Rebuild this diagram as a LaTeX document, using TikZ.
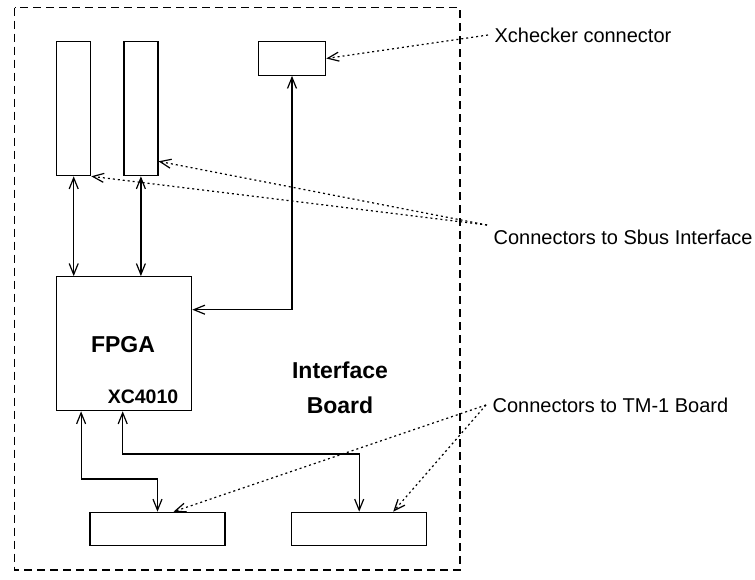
\documentclass[tikz,border=0pt]{standalone}
\usepackage{fontspec}
\setmainfont{Liberation Sans}
\usetikzlibrary{arrows.meta,positioning,calc}

\begin{document}
\begin{tikzpicture}[x=1bp, y=-1bp, line width=1.2bp, >={Straight Barb[length=11bp,width=9bp]},
		conn/.style={draw, rectangle, inner sep=0pt},
		note/.style={anchor=west, inner xsep=6bp, inner ysep=2bp, font=\fontsize{20bp}{24bp}\selectfont},
		pointer/.style={->, dash pattern=on 2bp off 3bp}]
		\useasboundingbox (0,0) rectangle (755,580);
		\draw[dash pattern=on 8bp off 5bp] (14.7,7.7) rectangle (460,570);
		
		\node[conn, minimum width=34bp, minimum height=134bp] (sa) at (73.7,108.7) {};
		\node[conn, minimum width=34bp, minimum height=134bp] (sb) at (140.9,108.7) {};
		\node[conn, minimum width=67.4bp, minimum height=33.6bp] (xck) at (292,58.5) {};
		\node[conn, minimum width=135bp, minimum height=134bp] (fpga) at (124.2,343.7) {};
		\node[conn, minimum width=135bp, minimum height=33.4bp] (ta) at (157.5,529) {};
		\node[conn, minimum width=135bp, minimum height=33.4bp] (tb) at (359.2,529) {};
		
		\node[font=\bfseries\fontsize{23bp}{28bp}\selectfont] (fpganame) at (123,345) {FPGA};
		\node[font=\bfseries\fontsize{19.5bp}{24bp}\selectfont] (chip) at (143,397) {XC4010};
		\node[align=center, font=\bfseries\fontsize{23bp}{35bp}\selectfont] (board) at (340,388) {Interface\\Board};
		
		\node[note] (xlab) at (488,35) {Xchecker connector};
		\node[note] (slab) at (487,237) {Connectors to Sbus Interface};
		\node[note] (tlab) at (486,405) {Connectors to TM-1 Board};
		
		\draw[<->] (sa.south) -- (sa.south |- fpga.north);
		\draw[<->] (sb.south) -- (sb.south |- fpga.north);
		\draw[<->] (xck.south) |- ([yshift=34bp]fpga.east);
		\draw[<->] ([xshift=25bp]fpga.south west) -- ++(0,67.6) -| (ta.north);
		\draw[<->] ([xshift=66.6bp]fpga.south west) -- ++(0,42.6) -| (tb.north);
		
		\draw[pointer] (xlab.west) -- (xck.east);
		\draw[pointer] ([yshift=12bp]slab.west) -- (sa.south east);
		\draw[pointer] ([yshift=12bp]slab.west) -- ([yshift=15bp]sb.south east);
		\draw[pointer] (tlab.west) -- ([xshift=16bp]ta.north);
		\draw[pointer] (tlab.west) -- ([xshift=34bp]tb.north);
\end{tikzpicture}
\end{document}
